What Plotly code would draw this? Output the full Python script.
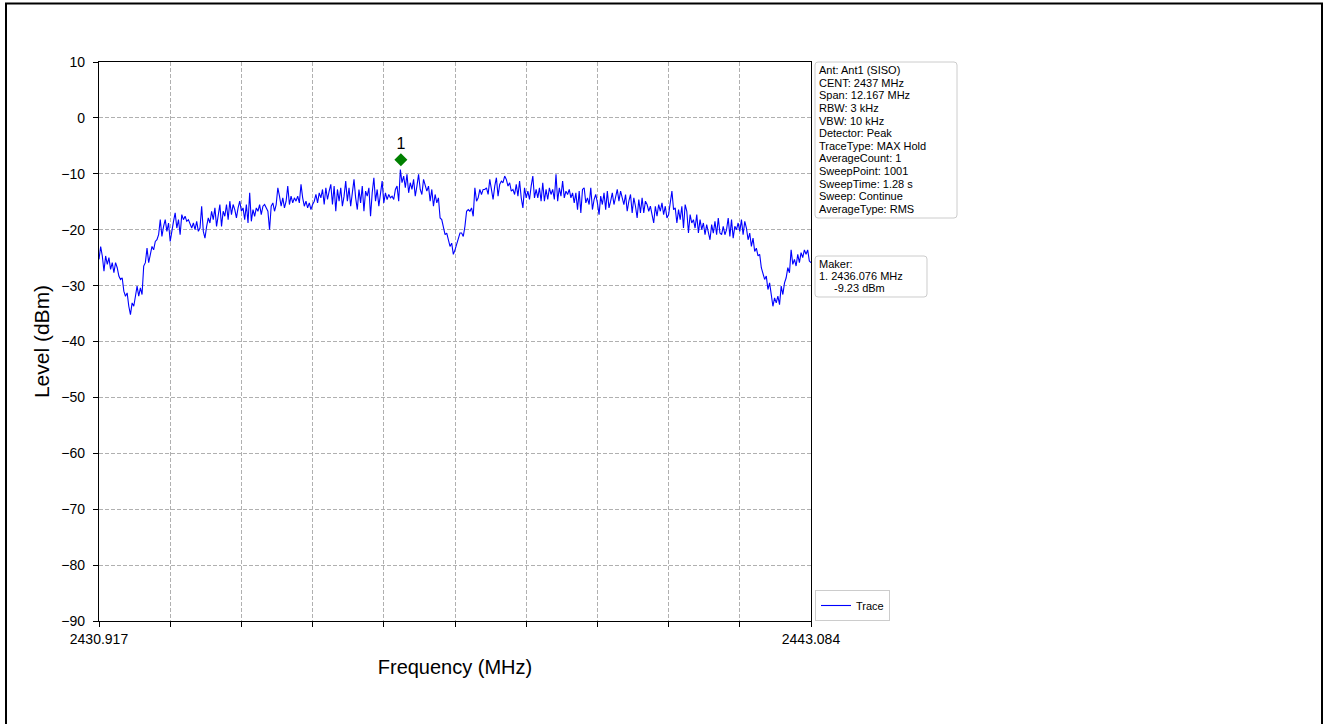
import plotly.graph_objects as go
import numpy as np

# ---------------- data ----------------
freq_start = 2430.917
freq_stop = 2443.084

level_seg1 = [
    -25.3, -23.0, -24.7, -27.4, -24.7, -26.2, -25.0, -27.1, -25.9, -27.7,
    -25.9, -26.8, -28.3, -28.9, -28.6, -31.0, -31.9, -31.3, -33.7, -35.2,
    -33.1, -33.7, -31.9, -30.1, -31.9, -30.4, -31.6, -26.5, -25.9, -23.3,
    -25.9, -24.7, -23.0, -23.6, -22.1, -21.8, -20.9, -18.2, -21.2, -19.4,
    -18.2, -20.3, -18.8, -22.1, -20.0, -18.5, -17.0, -19.7, -18.2, -20.9,
    -17.3, -18.2, -17.6, -18.5, -18.2, -19.1, -19.7, -18.8, -20.0, -18.5,
    -20.3, -19.7, -15.8, -20.3, -21.5, -19.4, -17.9, -18.8, -16.7, -18.2,
    -16.1, -19.4, -17.3, -15.5, -19.4, -16.7, -17.6, -15.5, -18.2, -14.9,
    -17.3, -15.5, -16.4, -17.9, -16.1, -14.9, -16.7, -16.1, -18.2, -15.5,
    -18.8, -13.4, -18.5, -16.4, -17.6, -16.1, -16.7, -15.5, -17.3, -15.8,
    -15.5, -16.1, -16.7, -20.0, -15.8, -15.2, -16.7, -15.5, -12.5, -14.0,
]
level_seg2 = [
    -15.8, -14.3, -16.1, -14.9, -12.2, -15.5, -14.0, -15.2, -14.3, -14.9,
    -14.0, -15.2, -11.9, -14.3, -15.8, -14.9, -16.1, -15.2, -16.4, -15.5,
    -14.9, -13.7, -15.2, -13.4, -14.3, -12.8, -15.5, -12.5, -14.6, -13.1,
    -11.9, -15.5, -12.2, -16.7, -12.8, -14.9, -12.5, -15.8, -14.0, -11.3,
    -14.9, -12.5, -15.8, -13.4, -11.0, -14.3, -16.4, -12.8, -15.2, -12.2,
    -16.7, -13.1, -14.0, -12.5, -17.6, -13.4, -10.7, -14.9, -12.8, -15.8,
    -13.7, -11.3, -15.2, -13.4, -14.6, -13.7, -14.3, -14.0, -14.6, -12.8,
    -12.2, -14.9, -9.23, -11.6, -10.4, -12.5, -10.1, -13.4, -11.6, -12.8,
    -11.0, -14.0, -12.2, -10.1, -12.8, -13.7, -11.0, -11.9, -13.1, -12.2,
    -14.9, -12.8, -15.8, -13.7, -15.2, -14.3, -17.9, -18.2, -19.4, -20.9,
    -20.6, -21.8, -23.0, -22.4, -24.4, -23.6, -22.7, -21.5, -20.6,
]
level_seg3 = [
    -20.6, -21.2, -19.4, -16.7, -16.4, -16.7, -16.1, -17.6, -12.5, -14.9,
    -14.3, -12.8, -13.7, -12.8, -12.8, -12.5, -13.7, -11.0, -12.8, -14.6,
    -12.2, -10.7, -14.0, -11.9, -11.3, -11.6, -10.4, -11.0, -12.2, -11.6,
    -13.1, -12.8, -13.7, -11.9, -14.0, -11.3, -14.3, -16.1, -12.5, -14.3,
    -13.1, -14.6, -12.2, -10.4, -14.3, -12.8, -14.3, -12.5, -14.9, -11.6,
    -14.9, -12.8, -14.6, -12.5, -13.7, -12.8, -14.6, -10.1, -14.9, -12.5,
    -14.0, -11.3, -14.3, -13.1, -13.7, -12.8, -14.3, -13.4, -15.2, -13.4,
    -16.4, -13.1, -17.0, -12.8, -12.5, -15.2, -14.3, -15.5, -12.5, -16.4,
    -14.6, -13.7, -15.2, -17.3, -14.0, -15.5, -13.4, -16.4, -13.1, -16.1,
    -14.9, -13.4, -15.5, -14.3, -12.8, -14.9, -13.1, -14.3, -15.5, -13.7,
    -16.7, -14.9, -13.7, -17.0, -14.3, -15.8, -17.9, -14.6, -17.0,
]
level_seg4 = [
    -14.3, -17.0, -14.9, -15.5, -16.7, -15.8, -17.3, -18.8, -15.8, -17.6,
    -15.5, -16.7, -15.2, -17.3, -15.8, -17.9, -17.3, -14.9, -13.1, -16.4,
    -16.1, -18.8, -16.4, -18.2, -15.8, -19.7, -15.5, -16.7, -20.6, -17.3,
    -18.8, -18.2, -19.7, -17.3, -20.6, -18.2, -20.0, -18.8, -20.9, -19.1,
    -20.3, -21.8, -19.1, -20.6, -18.5, -20.9, -17.9, -20.6, -20.9, -19.4,
    -20.9, -20.0, -17.9, -21.2, -18.2, -21.5, -19.4, -20.0, -18.8, -20.3,
    -18.2, -20.9, -18.5, -19.7, -21.8, -20.6, -23.0, -21.5, -23.9, -23.3,
    -24.7, -24.4, -26.8, -27.7, -28.9, -28.3, -30.7, -29.5, -31.3, -33.7,
    -32.2, -33.1, -31.9, -33.4, -30.1, -31.6, -29.5, -28.6, -26.8, -27.7,
    -23.6, -26.2, -25.3, -26.5, -24.4, -25.9, -24.1, -25.0, -23.6, -24.4,
    -23.6, -25.6, -25.9,
]
levels = level_seg1 + level_seg2 + level_seg3 + level_seg4
freqs = np.linspace(freq_start, freq_stop, len(levels))

marker_freq = [2436.076]
marker_level = [-7.5]
marker_label = ["1"]

y_ticks = [-90, -80, -70, -60, -50, -40, -30, -20, -10, 0, 10]
x_tick_count = 11
x_tick_labels = ["2430.917"] + [""] * 9 + ["2443.084"]

info_lines = [
    "Ant: Ant1 (SISO)", "CENT: 2437 MHz", "Span: 12.167 MHz", "RBW: 3 kHz",
    "VBW: 10 kHz", "Detector: Peak", "TraceType: MAX Hold", "AverageCount: 1",
    "SweepPoint: 1001", "SweepTime: 1.28 s", "Sweep: Continue", "AverageType: RMS",
]
maker_lines = ["Maker:", "1. 2436.076 MHz", "-9.23 dBm"]

# ---------------- layout helpers (pixel -> paper) ----------------
W, H = 1324, 724
L, R, T, B = 99, 811, 62, 621


def pxx(x):
    return (x - L) / (R - L)


def pyy(y):
    return (B - y) / (B - T)


def rrect(x0, y0, x1, y1, r=3):
    pts = [
        ("M", [(x0 + r, y0)]), ("L", [(x1 - r, y0)]), ("Q", [(x1, y0), (x1, y0 + r)]),
        ("L", [(x1, y1 - r)]), ("Q", [(x1, y1), (x1 - r, y1)]), ("L", [(x0 + r, y1)]),
        ("Q", [(x0, y1), (x0, y1 - r)]), ("L", [(x0, y0 + r)]), ("Q", [(x0, y0), (x0 + r, y0)]),
    ]
    s = ""
    for cmd, ps in pts:
        s += cmd + " " + " ".join(f"{pxx(a):.5f},{pyy(b):.5f}" for a, b in ps) + " "
    return s + "Z"


FONT = "Liberation Sans, Arial, sans-serif"
span = freq_stop - freq_start
x_tickvals = [freq_start + span * i / (x_tick_count - 1) for i in range(x_tick_count)]

fig = go.Figure()
fig.add_trace(go.Scatter(
    x=freqs, y=levels, mode="lines", name="Trace",
    line=dict(color="#0000ff", width=1.1),
))
fig.add_trace(go.Scatter(
    x=marker_freq, y=marker_level, mode="markers+text", text=marker_label,
    textposition="top center", textfont=dict(family=FONT, size=16, color="black"),
    marker=dict(symbol="diamond", size=10, color="#008000"),
    showlegend=False,
))

shapes = []
# info boxes
shapes.append(dict(type="path", xref="paper", yref="paper", path=rrect(815, 62, 957, 218),
                   line=dict(color="#cccccc", width=1), fillcolor="rgba(255,255,255,0.8)", layer="above"))
shapes.append(dict(type="path", xref="paper", yref="paper", path=rrect(815, 256, 927, 297),
                   line=dict(color="#cccccc", width=1), fillcolor="rgba(255,255,255,0.8)", layer="above"))
# page frame
shapes.append(dict(type="line", xref="paper", yref="paper", x0=pxx(5), x1=pxx(1323),
                   y0=pyy(3.5), y1=pyy(3.5), line=dict(color="black", width=2)))
shapes.append(dict(type="line", xref="paper", yref="paper", x0=pxx(6), x1=pxx(6),
                   y0=pyy(3), y1=pyy(724), line=dict(color="black", width=2)))
shapes.append(dict(type="line", xref="paper", yref="paper", x0=pxx(1322), x1=pxx(1322),
                   y0=pyy(3), y1=pyy(724), line=dict(color="black", width=2)))

annotations = []
for i, t in enumerate(info_lines):
    annotations.append(dict(xref="paper", yref="paper", x=pxx(818), y=pyy(70 + i * 12.64),
                            text=t, showarrow=False, xanchor="left", yanchor="middle",
                            borderpad=0, font=dict(family=FONT, size=11, color="black")))
maker_pos = [(818, 263.5), (818, 275.8), (833, 288.1)]
for (mx, my), t in zip(maker_pos, maker_lines):
    annotations.append(dict(xref="paper", yref="paper", x=pxx(mx), y=pyy(my),
                            text=t, showarrow=False, xanchor="left", yanchor="middle",
                            borderpad=0, font=dict(family=FONT, size=11, color="black")))

fig.update_layout(
    width=W, height=H,
    margin=dict(l=L, r=W - R, t=T, b=H - B, autoexpand=False),
    paper_bgcolor="white", plot_bgcolor="white",
    font=dict(family=FONT, color="black"),
    showlegend=True,
    legend=dict(x=pxx(815), y=0, xanchor="left", yanchor="bottom",
                bordercolor="#cccccc", borderwidth=1, bgcolor="white",
                font=dict(family=FONT, size=11)),
    shapes=shapes,
    annotations=annotations,
)
fig.update_xaxes(
    range=[freq_start, freq_stop], tickvals=x_tickvals, ticktext=x_tick_labels,
    ticks="outside", ticklen=5, tickcolor="black", tickwidth=1,
    showline=True, linecolor="black", linewidth=1.3, mirror=True,
    showgrid=True, gridcolor="#b0b0b0", gridwidth=0.8, griddash="4px,2px",
    zeroline=False, tickfont=dict(family=FONT, size=14),
    title=dict(text="Frequency (MHz)", font=dict(family=FONT, size=20), standoff=14),
)
fig.update_yaxes(
    range=[-90, 10], tickvals=y_ticks,
    ticks="outside", ticklen=5, tickcolor="black", tickwidth=1, ticklabelstandoff=5,
    showline=True, linecolor="black", linewidth=1.3, mirror=True,
    showgrid=True, gridcolor="#b0b0b0", gridwidth=0.8, griddash="4px,2px",
    zeroline=False, tickfont=dict(family=FONT, size=14),
    title=dict(text="Level (dBm)", font=dict(family=FONT, size=21), standoff=5),
)

fig.write_html("out.html", config={"displayModeBar": False},
               post_script="document.body.style.margin='0';")
